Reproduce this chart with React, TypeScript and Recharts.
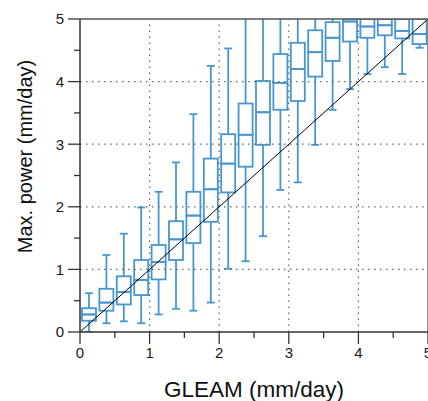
import { ComposedChart, Bar, XAxis, YAxis, ReferenceLine, Label } from 'recharts';

// bin centres along GLEAM (mm/day)
const centers = [0.125, 0.375, 0.625, 0.875, 1.125, 1.375, 1.625, 1.875, 2.125, 2.375, 2.625, 2.875, 3.125, 3.375, 3.625, 3.875, 4.125, 4.375, 4.625, 4.875];
// whisker ends and quartiles of max. power (mm/day)
const lows = [0.0, 0.14, 0.17, 0.14, 0.28, 0.37, 0.34, 0.47, 1.01, 1.13, 1.53, 2.27, 2.39, 2.99, 3.55, 3.88, 4.12, 4.23, 4.12, 4.54];
const q1s = [0.18, 0.34, 0.44, 0.59, 0.84, 1.15, 1.42, 1.76, 2.23, 2.64, 2.99, 3.55, 3.69, 4.08, 4.33, 4.64, 4.7, 4.74, 4.69, 4.6];
const medians = [0.28, 0.47, 0.64, 0.83, 1.12, 1.48, 1.86, 2.28, 2.69, 3.15, 3.51, 3.98, 4.2, 4.47, 4.7, 4.96, 4.88, 4.9, 4.81, 4.76];
const q3s = [0.38, 0.69, 0.89, 1.15, 1.39, 1.77, 2.24, 2.77, 3.16, 3.65, 4.01, 4.44, 4.62, 4.82, 4.95, 5.05, 5.05, 5.05, 5.05, 5.05];
const highs = [0.62, 1.23, 1.57, 1.99, 2.24, 2.71, 3.48, 4.25, 4.53, 5.6, 5.6, 5.6, 5.6, 5.6, 5.6, 5.6, 5.6, 5.6, 5.6, 5.6];

const axisTicks = [0, 0.5, 1, 1.5, 2, 2.5, 3, 3.5, 4, 4.5, 5];
const gridValues = [1, 2, 3, 4];

const boxes = centers.map((x, i) => ({
    x,
    high: highs[i],
    base: lows[i],
    lowerWhisker: q1s[i] - lows[i],
    lowerBox: medians[i] - q1s[i],
    upperBox: q3s[i] - medians[i],
    upperWhisker: highs[i] - q3s[i],
}));

const BLUE = '#4796cf';
const AXIS = '#333';
const FONT = '"Liberation Sans", Arial, Helvetica, sans-serif';
const TICK_SIZE = 12;
const TICK_GAP = 4;

const Empty = () => <g />;

const LowerWhisker = (p: any) => {
    const cx = p.x + p.width / 2;
    const yb = p.y + p.height;
    return (
        <g>
            <line x1={cx} x2={cx} y1={p.y} y2={yb} stroke={BLUE} strokeWidth={1.8} />
            <line x1={cx - 4} x2={cx + 4} y1={yb} y2={yb} stroke={BLUE} strokeWidth={1.8} />
        </g>
    );
};

const UpperWhisker = (p: any) => {
    const cx = p.x + p.width / 2;
    return (
        <g>
            <line x1={cx} x2={cx} y1={p.y} y2={p.y + p.height} stroke={BLUE} strokeWidth={1.8} />
            {p.payload.high <= 5 && <line x1={cx - 4} x2={cx + 4} y1={p.y} y2={p.y} stroke={BLUE} strokeWidth={1.8} />}
        </g>
    );
};

const BoxPart = (p: any) => (
    <rect x={p.x} y={p.y} width={p.width} height={p.height} fill="none" stroke={BLUE} strokeWidth={1.8} />
);

const XTick = (p: any) => {
    const axisY = p.y - TICK_SIZE - TICK_GAP;
    const major = Number.isInteger(p.payload.value);
    return (
        <g>
            <line x1={p.x} x2={p.x} y1={axisY} y2={axisY + (major ? 12 : 6)} stroke={AXIS} strokeWidth={1.3} />
            {major && (
                <text x={p.x} y={axisY + 15} dy="0.72em" textAnchor="middle" fontSize={15} fontFamily={FONT} fill="#1a1a1a">
                    {p.payload.value}
                </text>
            )}
        </g>
    );
};

const YTick = (p: any) => {
    const axisX = p.x + TICK_SIZE + TICK_GAP;
    const major = Number.isInteger(p.payload.value);
    return (
        <g>
            <line x1={axisX - (major ? 12 : 6)} x2={axisX} y1={p.y} y2={p.y} stroke={AXIS} strokeWidth={1.3} />
            {major && (
                <text x={axisX - 16} y={p.y} dy="0.36em" textAnchor="end" fontSize={15} fontFamily={FONT} fill="#1a1a1a">
                    {p.payload.value}
                </text>
            )}
        </g>
    );
};

const XTitle = (p: any) => {
    const vb = p.viewBox;
    return (
        <text x={vb.x + vb.width / 2} y={vb.y + 65} textAnchor="middle" fontSize={22.5} fontFamily={FONT} fill="#111">
            GLEAM (mm/day)
        </text>
    );
};

const YTitle = (p: any) => {
    const vb = p.viewBox;
    const cx = vb.x + 32;
    const cy = vb.y + vb.height / 2 - 19;
    return (
        <text x={cx} y={cy} transform={`rotate(-90 ${cx} ${cy})`} textAnchor="middle" fontSize={20} fontFamily={FONT} fill="#111">
            Max. power (mm/day)
        </text>
    );
};

export default function App() {
    return (
        <div style={{ width: 428, height: 401 }}>
            <style>{'body{margin:0}'}</style>
            <ComposedChart width={428} height={401} data={boxes} margin={{ top: 19, right: 0, bottom: 0, left: 0 }}>
                <XAxis
                    type="number"
                    dataKey="x"
                    domain={[0, 5]}
                    ticks={axisTicks}
                    interval={0}
                    allowDataOverflow
                    height={69}
                    tickSize={TICK_SIZE}
                    tickMargin={TICK_GAP}
                    tickLine={false}
                    axisLine={{ stroke: AXIS, strokeWidth: 1.5 }}
                    tick={<XTick />}
                >
                    <Label value="GLEAM (mm/day)" content={<XTitle />} />
                </XAxis>
                <YAxis
                    type="number"
                    domain={[0, 5]}
                    ticks={axisTicks}
                    interval={0}
                    allowDataOverflow
                    width={80}
                    tickSize={TICK_SIZE}
                    tickMargin={TICK_GAP}
                    tickLine={false}
                    axisLine={{ stroke: AXIS, strokeWidth: 1.5 }}
                    tick={<YTick />}
                >
                    <Label value="Max. power (mm/day)" content={<YTitle />} />
                </YAxis>
                {gridValues.map(v => (
                    <ReferenceLine key={'gx' + v} x={v} stroke="#666" strokeWidth={1.2} strokeDasharray="1.5 4.5" />
                ))}
                {gridValues.map(v => (
                    <ReferenceLine key={'gy' + v} y={v} stroke="#666" strokeWidth={1.2} strokeDasharray="1.5 4.5" />
                ))}
                <Bar dataKey="base" stackId="box" barSize={14} shape={<Empty />} isAnimationActive={false} />
                <Bar dataKey="lowerWhisker" stackId="box" barSize={14} shape={<LowerWhisker />} isAnimationActive={false} />
                <Bar dataKey="lowerBox" stackId="box" barSize={14} shape={<BoxPart />} isAnimationActive={false} />
                <Bar dataKey="upperBox" stackId="box" barSize={14} shape={<BoxPart />} isAnimationActive={false} />
                <Bar dataKey="upperWhisker" stackId="box" barSize={14} shape={<UpperWhisker />} isAnimationActive={false} />
                <ReferenceLine segment={[{ x: 0, y: 0 }, { x: 5, y: 5 }]} stroke="#000" strokeWidth={1} />
                <ReferenceLine y={5} stroke="#555" strokeWidth={1.6} />
                <ReferenceLine x={5} stroke="#777" strokeWidth={1.6} />
            </ComposedChart>
        </div>
    );
}
